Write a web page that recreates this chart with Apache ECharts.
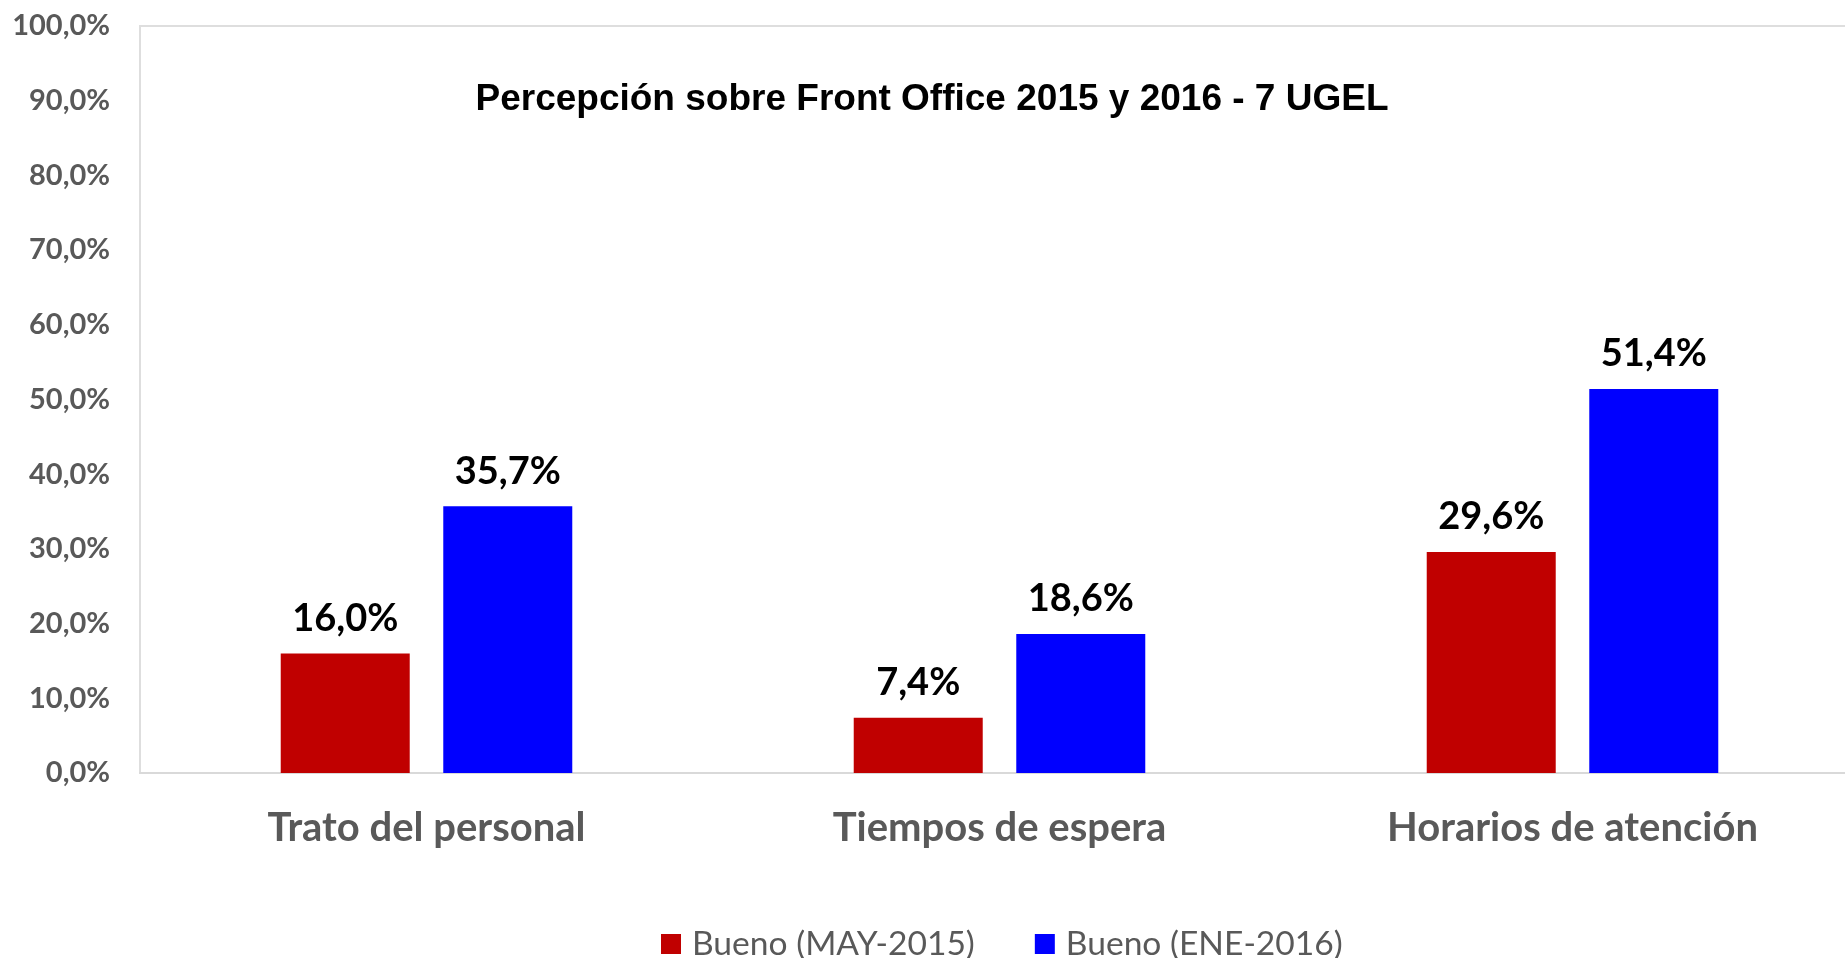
<!DOCTYPE html>
<html>
<head>
<meta charset="utf-8">
<script src="https://cdn.jsdelivr.net/npm/echarts@6/dist/echarts.min.js"></script>
<style>
    html, body { margin: 0; padding: 0; background: #fff; overflow: hidden; }
    /* the plot box runs past the right edge of the window, so the canvas does too */
    #main { width: 1880px; height: 958px; }
</style>
</head>
<body>
<div id="main"></div>
<script>
var categories = ['Trato del personal', 'Tiempos de espera', 'Horarios de atención'];
var seriesNames = ['Bueno (MAY-2015)', 'Bueno (ENE-2016)'];
var may2015 = [16.0, 7.4, 29.6];
var ene2016 = [35.7, 18.6, 51.4];
var yTicks = { min: 0, max: 100, step: 10 };

function pct(v) {
    return v.toFixed(1).replace('.', ',') + '%';
}

var myChart = echarts.init(document.getElementById('main'));

var barLabel = {
    show: true,
    position: 'top',
    distance: 16,
    fontFamily: 'Lato',
    fontWeight: 'bold',
    fontSize: 38,
    color: '#000',
    formatter: function (p) { return pct(p.value); }
};

var option = {
    backgroundColor: '#fff',
    title: {
        text: 'Percepción sobre Front Office 2015 y 2016 - 7 UGEL',
        left: 927,
        top: 76,
        textAlign: 'center',
        textStyle: {
            fontFamily: 'Liberation Sans',
            fontWeight: 'bold',
            fontSize: 37,
            color: '#000'
        }
    },
    legend: {
        data: seriesNames,
        left: 656,
        top: 922,
        itemWidth: 20,
        itemHeight: 20,
        itemGap: 60,
        icon: 'rect',
        textStyle: {
            fontFamily: 'Lato',
            fontSize: 33.6,
            color: '#595959',
            padding: [0, 0, 0, 6]
        }
    },
    grid: {
        left: 140,
        top: 26,
        width: 1719,
        height: 747,
        show: true,
        borderColor: '#dedede',
        borderWidth: 2
    },
    xAxis: {
        type: 'category',
        data: categories,
        axisTick: { show: false },
        axisLine: { lineStyle: { color: '#d9d9d9', width: 2 } },
        axisLabel: {
            margin: 35,
            fontFamily: 'Lato',
            fontWeight: 'bold',
            fontSize: 40,
            color: '#595959'
        }
    },
    yAxis: {
        type: 'value',
        min: yTicks.min,
        max: yTicks.max,
        interval: yTicks.step,
        splitLine: { show: false },
        axisLine: { show: false },
        axisTick: { show: false },
        axisLabel: {
            margin: 30,
            fontFamily: 'Lato',
            fontWeight: 'bold',
            fontSize: 29,
            color: '#595959',
            formatter: function (v) { return pct(v); }
        }
    },
    series: [
        {
            name: seriesNames[0],
            type: 'bar',
            data: may2015,
            barWidth: 129,
            barGap: '26%',
            itemStyle: { color: '#c00000' },
            label: barLabel
        },
        {
            name: seriesNames[1],
            type: 'bar',
            data: ene2016,
            barWidth: 129,
            barGap: '26%',
            itemStyle: { color: '#0000ff' },
            label: barLabel
        }
    ]
};

myChart.setOption(option);
window.addEventListener('resize', function () {
    myChart.resize();
});
</script>
</body>
</html>
